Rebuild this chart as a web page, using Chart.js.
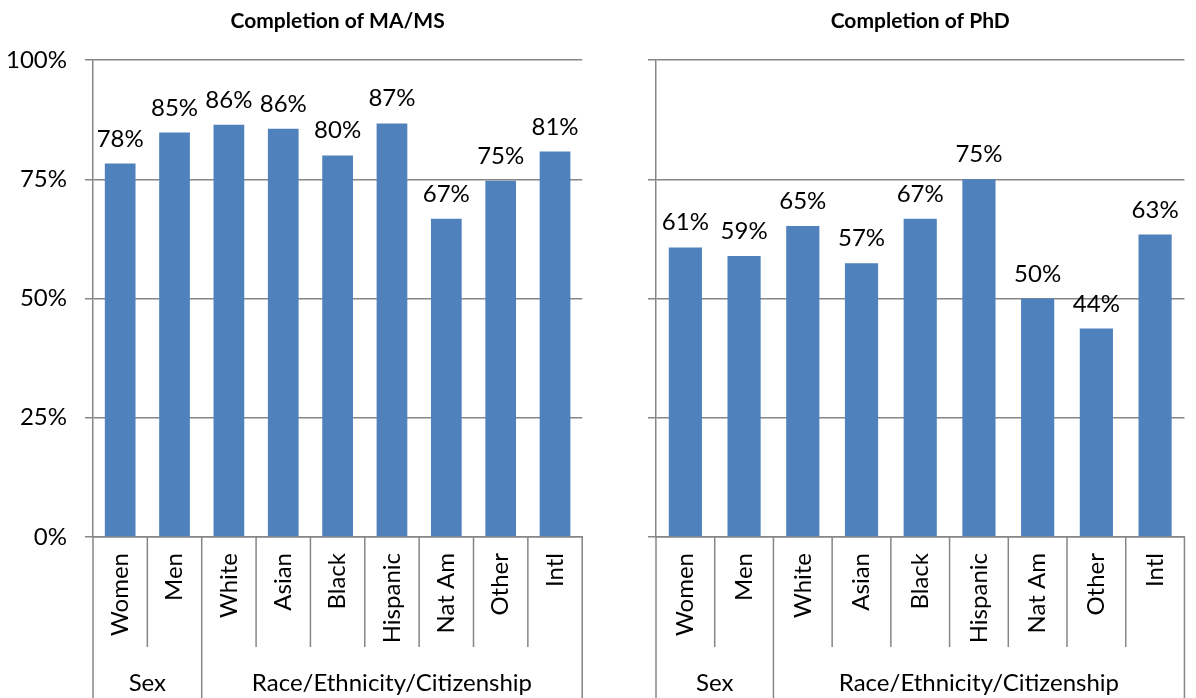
<!DOCTYPE html>
<html>
<head>
<meta charset="utf-8">
<script src="https://cdn.jsdelivr.net/npm/chart.js@4.4.1/dist/chart.umd.min.js"></script>
<style>
  html, body { margin: 0; padding: 0; background: #fff; overflow: hidden; width: 1196px; height: 698px; }
  .panel { position: absolute; top: 0; height: 698px; width: 600px; }
  #left { left: 0; }
  #right { left: 600px; }
</style>
</head>
<body>
<div class="panel" id="left"><canvas id="masters" width="600" height="698"></canvas></div>
<div class="panel" id="right"><canvas id="phd" width="600" height="698"></canvas></div>
<script>
// categories on the x axis, and the groups they fall into
const categories = ["Women", "Men", "White", "Asian", "Black", "Hispanic", "Nat Am", "Other", "Intl"];
const groupLabels = ["Sex", "Race/Ethnicity/Citizenship"];
const groupSizes = [2, 7];

// completion rates in percent
const mastersValues = [78.3, 84.8, 86.4, 85.6, 80.0, 86.7, 66.7, 74.7, 80.8];
const phdValues = [60.7, 58.9, 65.2, 57.4, 66.7, 75.0, 50.0, 43.7, 63.4];

const mastersTitle = "Completion of MA/MS";
const phdTitle = "Completion of PhD";

// y axis: 0% to 100% every 25%
const yMin = 0;
const yMax = 100;
const yStep = 25;

const FONT = "Lato, 'Open Sans', sans-serif";
const FONT_SIZE = 24;
const LINE = "#868686";
const BAR = "#4F81BD";

// titles, data labels, category separators and group labels
const panelDecor = {
  id: "panelDecor",
  afterDatasetsDraw(chart) {
    const ctx = chart.ctx;
    const meta = chart.getDatasetMeta(0);
    const values = chart.data.datasets[0].data;
    ctx.save();
    ctx.font = FONT_SIZE + "px " + FONT;
    ctx.fillStyle = "#000";
    ctx.textAlign = "center";
    ctx.textBaseline = "alphabetic";
    meta.data.forEach((bar, i) => {
      ctx.fillText(Math.round(values[i]) + "%", bar.x, bar.y - 17);
    });
    ctx.restore();
  },
  afterDraw(chart, args, opts) {
    const ctx = chart.ctx;
    const x = chart.scales.x;
    const area = chart.chartArea;
    const n = chart.data.labels.length;
    const step = x.getPixelForValue(1) - x.getPixelForValue(0);
    const edge = (i) => x.getPixelForValue(i) - step / 2;

    // which boundaries close a group
    const groupEdges = [0];
    groupSizes.reduce((acc, s) => { groupEdges.push(acc + s); return acc + s; }, 0);

    ctx.save();
    ctx.strokeStyle = LINE;
    ctx.lineWidth = 1.5;
    for (let i = 0; i <= n; i++) {
      const px = edge(i);
      const isGroup = groupEdges.includes(i);
      ctx.beginPath();
      ctx.moveTo(px, area.bottom);
      ctx.lineTo(px, isGroup ? chart.height : area.bottom + 110);
      ctx.stroke();
    }

    // group labels under the categories
    ctx.font = FONT_SIZE + "px " + FONT;
    ctx.fillStyle = "#000";
    ctx.textAlign = "center";
    ctx.textBaseline = "middle";
    for (let g = 0; g < groupLabels.length; g++) {
      const cx = (edge(groupEdges[g]) + edge(groupEdges[g + 1])) / 2;
      ctx.fillText(groupLabels[g], cx, area.bottom + 146);
    }

    // panel title
    ctx.font = "bold 21px " + FONT;
    ctx.fillText(opts.title, (area.left + area.right) / 2, 21);
    ctx.restore();
  },
};

function makePanel(canvasId, title, values, showYLabels, yWidth, rightPad) {
  return new Chart(document.getElementById(canvasId), {
    type: "bar",
    data: {
      labels: categories,
      datasets: [
        {
          data: values,
          backgroundColor: BAR,
          categoryPercentage: 1.0,
          barPercentage: 0.565,
        },
      ],
    },
    options: {
      responsive: false,
      animation: false,
      layout: { padding: { top: 60, right: rightPad, left: 0, bottom: 0 } },
      plugins: {
        legend: { display: false },
        tooltip: { enabled: false },
        panelDecor: { title: title },
      },
      scales: {
        x: {
          type: "category",
          grid: { display: false, drawTicks: false },
          border: { display: true, color: LINE, width: 1.5 },
          ticks: {
            minRotation: 90,
            maxRotation: 90,
            padding: 16,
            color: "#000",
            font: { family: FONT, size: FONT_SIZE },
          },
          afterFit: (scale) => { scale.height = 161; },
        },
        y: {
          min: yMin,
          max: yMax,
          grid: { color: LINE, lineWidth: 1.5, tickLength: 8 },
          border: { display: true, color: LINE, width: 1.5 },
          ticks: {
            display: showYLabels,
            stepSize: yStep,
            padding: 18,
            color: "#000",
            font: { family: FONT, size: FONT_SIZE },
            callback: (v) => v + "%",
          },
          afterFit: (scale) => { scale.width = yWidth; },
        },
      },
    },
    plugins: [panelDecor],
  });
}

makePanel("masters", mastersTitle, mastersValues, true, 93, 3);
makePanel("phd", phdTitle, phdValues, false, 56, 2);
</script>
</body>
</html>
